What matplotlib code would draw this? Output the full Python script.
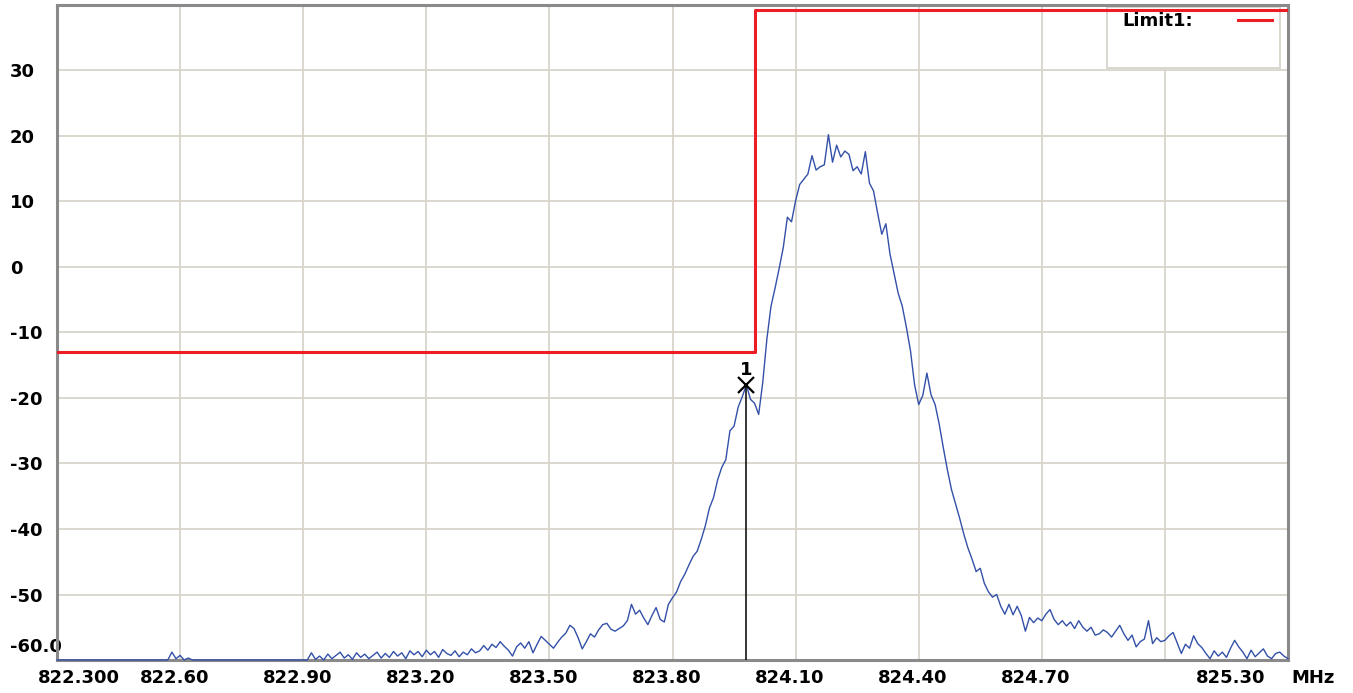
import matplotlib

matplotlib.use("Agg")
import matplotlib.pyplot as plt
import numpy as np
from matplotlib.patches import Rectangle
from matplotlib.lines import Line2D
from matplotlib.transforms import offset_copy

plt.rcParams["font.family"] = ["DejaVu Sans"]
plt.rcParams["font.weight"] = "bold"

# trace samples, 0.01 MHz apart from 822.30 to 825.30 (dBm)
F_START = 822.30
F_STEP = 0.01
LEVEL = (
    [-60.0] * 28
    + [-58.8, -59.8, -59.3, -60.0, -59.7, -60.0]
    + [-60.0] * 28
    + [-58.9, -59.9, -59.4, -60.0, -59.1, -59.8, -59.3, -58.8,
       -59.7, -59.2, -59.9, -58.9, -59.6, -59.1, -59.8, -59.3, -58.8, -59.7,
       -59.0, -59.6, -58.7, -59.4, -58.9, -59.8, -58.6, -59.2, -58.7, -59.5,
       -58.5, -59.2, -58.7, -59.6, -58.4, -59.0, -59.3, -58.6, -59.5, -58.8,
       -59.2, -58.3, -58.9, -58.6, -57.8, -58.5, -57.6, -58.1, -57.2, -57.9,
       -58.5, -59.4, -58.0, -57.4, -58.2, -57.2, -58.9, -57.6, -56.4, -57.0,
       -57.6, -58.2, -57.3, -56.5, -55.9, -54.7, -55.2, -56.6, -58.3, -57.2,
       -56.0, -56.5, -55.4, -54.6, -54.4, -55.3, -55.6, -55.2, -54.8, -54.0,
       -51.5, -53.0, -52.4, -53.6, -54.6, -53.2, -52.0, -53.8, -54.2, -51.5,
       -50.5, -49.6, -48.0, -46.9, -45.5, -44.2, -43.4, -41.6, -39.5, -36.8,
       -35.2, -32.5, -30.6, -29.4, -25.0, -24.3, -21.4, -19.8, -18.0, -20.2,
       -20.8, -22.5, -17.6, -11.0, -6.0, -3.2, -0.2, 3.0, 7.6, 6.9,
       10.1, 12.6, 13.4, 14.2, 17.0, 14.8, 15.3, 15.6,
       20.2, 16.0, 18.6, 16.8, 17.7, 17.2, 14.7, 15.3, 14.2, 17.6,
       12.8, 11.6, 8.2, 5.0, 6.6, 2.0, -1.0, -4.0, -6.0, -9.2,
       -12.8, -18.0, -21.0, -19.6, -16.2, -19.5, -21.0, -24.0, -27.6, -31.0,
       -34.0, -36.2, -38.4, -40.8, -42.9, -44.6, -46.5, -46.0, -48.3, -49.6,
       -50.4, -50.0, -51.8, -53.0, -51.5, -53.1, -51.8, -53.2, -55.6, -53.5,
       -54.3, -53.6, -54.0, -53.0, -52.3, -53.8, -54.6, -54.0, -54.8, -54.2,
       -55.2, -54.0, -55.0, -55.6, -55.0, -56.2, -56.0, -55.4, -55.8, -56.5,
       -55.6, -54.7, -56.0, -57.0, -56.2, -58.0, -57.2, -56.8, -54.0, -57.5,
       -56.6, -57.2, -57.0, -56.3, -55.8, -57.4, -59.0, -57.6, -58.2, -56.3,
       -57.5, -58.1, -59.0, -59.8, -58.6, -59.4, -58.8, -59.6, -58.2, -57.0,
       -58.0, -58.8, -59.8, -58.5, -59.5, -58.9, -58.3, -59.4, -59.8, -59.0,
       -58.8, -59.4, -59.8]
)

# limit line (step)
LIMIT_F = [822.30, 824.00, 824.00, 825.30]
LIMIT_DB = [-13.0, -13.0, 39.2, 39.2]

# marker 1
MARKER_F = 823.98
MARKER_DB = -18.0

XGRID = [822.6, 822.9, 823.2, 823.5, 823.8, 824.1, 824.4, 824.7, 825.0]
XLABEL_POS = [822.3, 822.6, 822.9, 823.2, 823.5, 823.8, 824.1, 824.4, 824.7, 825.3]
XLABEL_TXT = ["822.300", "822.60", "822.90", "823.20", "823.50", "823.80",
              "824.10", "824.40", "824.70", "825.30"]
YTICKS = [-60, -50, -40, -30, -20, -10, 0, 10, 20, 30]
YLABELS = ["-60.0", "-50", "-40", "-30", "-20", "-10", "0", "10", "20", "30"]

TRACE = "#3350a8"
LIMIT = "#ee1c24"
GRID = "#d8d4cc"
SPINE = "#8a8a8a"

freq = F_START + F_STEP * np.arange(len(LEVEL))

fig = plt.figure(figsize=(13.53, 6.93), dpi=100)
ax = fig.add_axes([57 / 1353, 1 - 660 / 693, 1231 / 1353, 655 / 693])
ax.set_xlim(822.30, 825.30)
ax.set_ylim(-60, 40)

ax.set_xticks(XGRID)
ax.set_xticklabels([])
ax.set_yticks(YTICKS)
ax.set_yticklabels(YLABELS)
ax.grid(True, color=GRID, linewidth=1.3)
ax.set_axisbelow(True)
ax.tick_params(axis="both", length=0)
ax.tick_params(axis="y", pad=34, labelsize=13)
for lab in ax.get_yticklabels():
    lab.set_horizontalalignment("left")
    lab.set_fontweight("bold")
# bottom label sits above its grid line, as on the analyser screen
low = ax.get_yticklabels()[0]
low.set_verticalalignment("bottom")
low.set_transform(offset_copy(low.get_transform(), fig=fig, y=3, units="points"))
for s in ax.spines.values():
    s.set_color(SPINE)
    s.set_linewidth(2.2)

# x labels drawn as text so they can sit beside the grid lines like the analyser does
for i, (pos, txt) in enumerate(zip(XLABEL_POS, XLABEL_TXT)):
    if i == 0:
        ha, dx = "left", -13.7
    elif i == len(XLABEL_POS) - 1:
        ha, dx = "right", -16.5
    else:
        ha, dx = "center", -4.3
    ax.annotate(txt, xy=(pos, 0), xycoords=("data", "axes fraction"),
                xytext=(dx, -13), textcoords="offset points", ha=ha, va="center",
                fontsize=13, fontweight="bold", annotation_clip=False)
ax.annotate("MHz", xy=(825.3, 0), xycoords=("data", "axes fraction"),
            xytext=(2.2, -13), textcoords="offset points", ha="left", va="center",
            fontsize=13, fontweight="bold", annotation_clip=False)

# legend box
ax.add_patch(Rectangle((0.853, 0.904), 0.1405, 0.093, transform=ax.transAxes,
                       facecolor="white", edgecolor=GRID, linewidth=1.3, zorder=2))
ax.text(0.8651, 0.9756, "Limit1:", transform=ax.transAxes, ha="left", va="center",
        fontsize=13, fontweight="bold", zorder=3)
ax.add_line(Line2D([0.9594, 0.987], [0.977, 0.977], transform=ax.transAxes,
                   color=LIMIT, linewidth=2.2, zorder=3))

ax.plot(freq, LEVEL, color=TRACE, linewidth=1.0, zorder=4, clip_on=False)
ax.plot(LIMIT_F, LIMIT_DB, color=LIMIT, linewidth=2.2, zorder=5)

ax.vlines(MARKER_F, -60, MARKER_DB, color="black", linewidth=1.1, zorder=6)
ax.plot([MARKER_F], [MARKER_DB], marker="x", markersize=11, markeredgewidth=1.6,
        color="black", zorder=7)
ax.annotate("1", xy=(MARKER_F, MARKER_DB), xytext=(0, 11), textcoords="offset points",
            ha="center", va="center", fontsize=13, fontweight="bold", zorder=7)

fig.savefig("out.png", dpi=100)
